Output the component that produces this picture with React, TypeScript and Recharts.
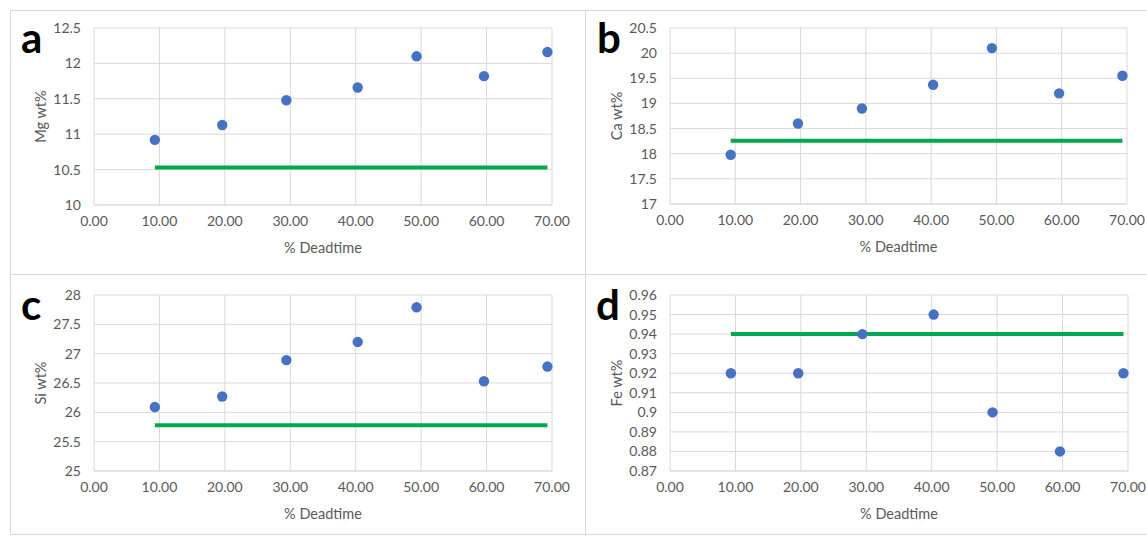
import React from 'react';
import { ScatterChart, Scatter, XAxis, YAxis, CartesianGrid, Label } from 'recharts';

// % deadtime of each measurement
const deadtime = [9.3, 19.6, 29.4, 40.3, 49.3, 59.6, 69.3];

// measured wt% values
const mgValues = [10.92, 11.13, 11.48, 11.66, 12.1, 11.82, 12.16];
const caValues = [17.98, 18.6, 18.9, 19.37, 20.1, 19.2, 19.55];
const siValues = [26.09, 26.27, 26.89, 27.2, 27.79, 26.53, 26.78];
const feValues = [0.92, 0.92, 0.94, 0.95, 0.9, 0.88, 0.92];

// reference (green) values and their deadtime span
const refSpan = [9.3, 69.3];
const mgRef = 10.53;
const caRef = 18.26;
const siRef = 25.78;
const feRef = 0.94;

// tick labels
const xTicks = [0, 10, 20, 30, 40, 50, 60, 70];
const mgTicks = [10, 10.5, 11, 11.5, 12, 12.5];
const caTicks = [17, 17.5, 18, 18.5, 19, 19.5, 20, 20.5];
const siTicks = [25, 25.5, 26, 26.5, 27, 27.5, 28];
const feTicks = [0.87, 0.88, 0.89, 0.9, 0.91, 0.92, 0.93, 0.94, 0.95, 0.96];

const FONT = 'Lato, "Open Sans", sans-serif';
const TEXT = '#595959';
const GRID = '#d9d9d9';
const BLUE = '#4472c4';
const GREEN = '#00a84f';

type PanelProps = {
  yLabel: string;
  values: number[];
  refValue: number;
  yTicks: number[];
  left: number;
  top: number;
  width: number;
  height: number;
  margin: { top: number; right: number; bottom: number; left: number };
};

const Dot = (p: any) => <circle cx={p.cx} cy={p.cy} r={5.2} fill={BLUE} />;

const Panel = ({ yLabel, values, refValue, yTicks, left, top, width, height, margin }: PanelProps) => {
  const points = deadtime.map((x, i) => ({ x, y: values[i] }));
  const refPoints = refSpan.map((x) => ({ x, y: refValue }));
  const yTitle = (p: any) => {
    const vb = p.viewBox;
    const cx = vb.x + 6;
    const cy = vb.y + vb.height / 2;
    return (
      <text
        x={cx}
        y={cy}
        transform={`rotate(-90 ${cx} ${cy})`}
        textAnchor="middle"
        dominantBaseline="central"
        fill={TEXT}
        fontSize={14.5}
        fontFamily={FONT}
      >
        {yLabel}
      </text>
    );
  };
  const xTitle = (p: any) => {
    const vb = p.viewBox;
    return (
      <text
        x={vb.x + vb.width / 2}
        y={vb.y + 42}
        textAnchor="middle"
        dominantBaseline="central"
        fill={TEXT}
        fontSize={14.5}
        fontFamily={FONT}
      >
        % Deadtime
      </text>
    );
  };
  return (
    <div style={{ position: 'absolute', left, top, width, height }}>
      <ScatterChart width={width} height={height} margin={margin}>
        <CartesianGrid stroke={GRID} strokeWidth={1} />
        <XAxis
          type="number"
          dataKey="x"
          domain={[0, 70]}
          ticks={xTicks}
          interval={0}
          tickFormatter={(v: number) => v.toFixed(2)}
          tickLine={false}
          tickSize={0}
          tickMargin={11}
          axisLine={{ stroke: GRID }}
          height={50}
          tick={{ fill: TEXT, fontSize: 14, fontFamily: FONT }}
        >
          <Label content={xTitle} />
        </XAxis>
        <YAxis
          type="number"
          dataKey="y"
          domain={[yTicks[0], yTicks[yTicks.length - 1]]}
          ticks={yTicks}
          interval={0}
          allowDataOverflow
          tickLine={false}
          tickSize={0}
          tickMargin={13}
          axisLine={false}
          width={60}
          tick={{ fill: TEXT, fontSize: 14, fontFamily: FONT }}
        >
          <Label content={yTitle} />
        </YAxis>
        <Scatter
          data={refPoints}
          line={{ stroke: GREEN, strokeWidth: 4 }}
          shape={() => <g />}
          isAnimationActive={false}
          legendType="none"
        />
        <Scatter data={points} fill={BLUE} shape={Dot} isAnimationActive={false} legendType="none" />
      </ScatterChart>
    </div>
  );
};

const letterStyle = { fontFamily: FONT, fontWeight: 700, fontSize: 42, fill: '#000' } as const;

export default function App() {
  return (
    <div
      style={{
        position: 'absolute',
        left: 0,
        top: 0,
        width: 1147,
        height: 536,
        background: '#fff',
        overflow: 'hidden',
      }}
    >
      <Panel
        yLabel="Mg wt%"
        values={mgValues}
        refValue={mgRef}
        yTicks={mgTicks}
        left={10}
        top={10}
        width={575}
        height={265}
        margin={{ top: 18, right: 33, bottom: 20, left: 24 }}
      />
      <Panel
        yLabel="Ca wt%"
        values={caValues}
        refValue={caRef}
        yTicks={caTicks}
        left={585}
        top={10}
        width={562}
        height={265}
        margin={{ top: 18, right: 20, bottom: 21, left: 25 }}
      />
      <Panel
        yLabel="Si wt%"
        values={siValues}
        refValue={siRef}
        yTicks={siTicks}
        left={10}
        top={275}
        width={575}
        height={261}
        margin={{ top: 20, right: 33, bottom: 15, left: 24 }}
      />
      <Panel
        yLabel="Fe wt%"
        values={feValues}
        refValue={feRef}
        yTicks={feTicks}
        left={585}
        top={275}
        width={562}
        height={261}
        margin={{ top: 20, right: 19, bottom: 15, left: 25 }}
      />
      <svg
        width={1147}
        height={536}
        style={{ position: 'absolute', left: 0, top: 0, pointerEvents: 'none' }}
      >
        <rect x={10.5} y={10.5} width={1140} height={524} fill="none" stroke={GRID} />
        <line x1={585.5} y1={10} x2={585.5} y2={536} stroke={GRID} />
        <line x1={10} y1={274.5} x2={1147} y2={274.5} stroke={GRID} />
        <text x={21} y={53} style={letterStyle}>a</text>
        <text x={597} y={53} style={letterStyle}>b</text>
        <text x={21} y={320} style={letterStyle}>c</text>
        <text x={596} y={320} style={letterStyle}>d</text>
      </svg>
    </div>
  );
}
